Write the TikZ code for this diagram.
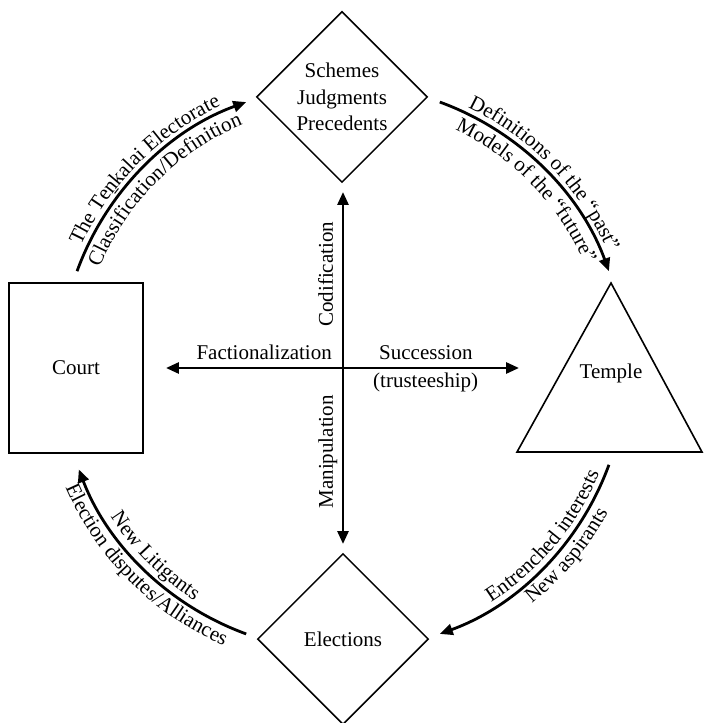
\documentclass[tikz,border=0pt]{standalone}
\usepackage{fontspec}
\setmainfont{Liberation Serif}
\usetikzlibrary{positioning,arrows.meta,shapes.geometric,decorations.text}
\newcommand\arcfont{\fontsize{21}{25}\selectfont}
\tikzset{
  crossarrow/.style={{Triangle[length=13pt,width=11pt]}-{Triangle[length=13pt,width=11pt]}, line width=2.8pt},
  cyclearrow/.style={-{Triangle[length=13pt,width=11pt]}, line width=2.8pt},
  diamondbox/.style={draw, diamond, aspect=1, line width=1.5pt, minimum width=171pt, minimum height=171pt, inner sep=0pt, align=center},
  courtbox/.style={draw, rectangle, line width=1.8pt, minimum width=134pt, minimum height=170pt},
  plainlabel/.style={inner sep=0pt},
  arclabel/.style={decorate, decoration={text along path, text align=center, text={|\arcfont|#1}}}
}

\begin{document}
\begin{tikzpicture}[x=1pt, y=1pt, every node/.style={font=\fontsize{21}{26.5}\selectfont}]
  \useasboundingbox (-343,-355) rectangle (361,368);
  \coordinate (hub) at (0,0);

  % the four places
  \node[diamondbox] (codes) at (-1,271) {Schemes\\Judgments\\Precedents};
  \node[diamondbox] (elections) at (0,-271) {Elections};
  \node[courtbox] (court) at (-267,0) {Court};
  \draw[line width=1.6pt] (174,-84) -- (268,85) -- (359,-84) -- cycle;
  \node (temple) at (268,-5) {Temple};

  % the cross
  \coordinate (crossW) at (-177,0);
  \coordinate (crossE) at (176,0);
  \coordinate (crossN) at (0,176);
  \coordinate (crossS) at (0,-176);
  \draw[crossarrow] (crossW) -- (crossE);
  \draw[crossarrow] (crossS) -- (crossN);
  \node[plainlabel, anchor=base east] (faction) at (-11,9) {Factionalization};
  \node[plainlabel, anchor=base west] (succession) at (36,9) {Succession};
  \node[plainlabel, anchor=base west] (trustee) at (30,-19) {(trusteeship)};
  \node[plainlabel, rotate=90, anchor=base west] (codify) at (-10,41) {Codification};
  \node[plainlabel, rotate=90, anchor=base east] (manipulate) at (-10,-27) {Manipulation};

  % the cycle round the outside
  \coordinate (tlStart) at (160:283);
  \coordinate (trStart) at (70:283);
  \coordinate (brStart) at (-20:283);
  \coordinate (blStart) at (-110:283);
  \draw[cyclearrow] (tlStart) arc[start angle=160, end angle=110, radius=283];
  \draw[cyclearrow] (trStart) arc[start angle=70, end angle=20, radius=283];
  \draw[cyclearrow] (brStart) arc[start angle=-20, end angle=-70, radius=283];
  \draw[cyclearrow] (blStart) arc[start angle=-110, end angle=-159, radius=283];

  \path[arclabel={The Teṉkalai Electorate}] (180:289) arc[start angle=180, end angle=90, radius=289];
  \path[arclabel={Classification/Definition}] (180:263) arc[start angle=180, end angle=90, radius=263];
  \path[arclabel={Definitions of the “past”}] (89:289) arc[start angle=89, end angle=-1, radius=289];
  \path[arclabel={Models of the “future”}] (89:263) arc[start angle=89, end angle=-1, radius=263];
  \path[arclabel={Entrenched interests}] (-85:277) arc[start angle=-85, end angle=5, radius=277];
  \path[arclabel={New aspirants}] (-85:302) arc[start angle=-85, end angle=5, radius=302];
  \path[arclabel={New Litigants}] (-180:276) arc[start angle=-180, end angle=-90, radius=276];
  \path[arclabel={Election disputes/Alliances}] (-180:302) arc[start angle=-180, end angle=-90, radius=302];
\end{tikzpicture}
\end{document}
